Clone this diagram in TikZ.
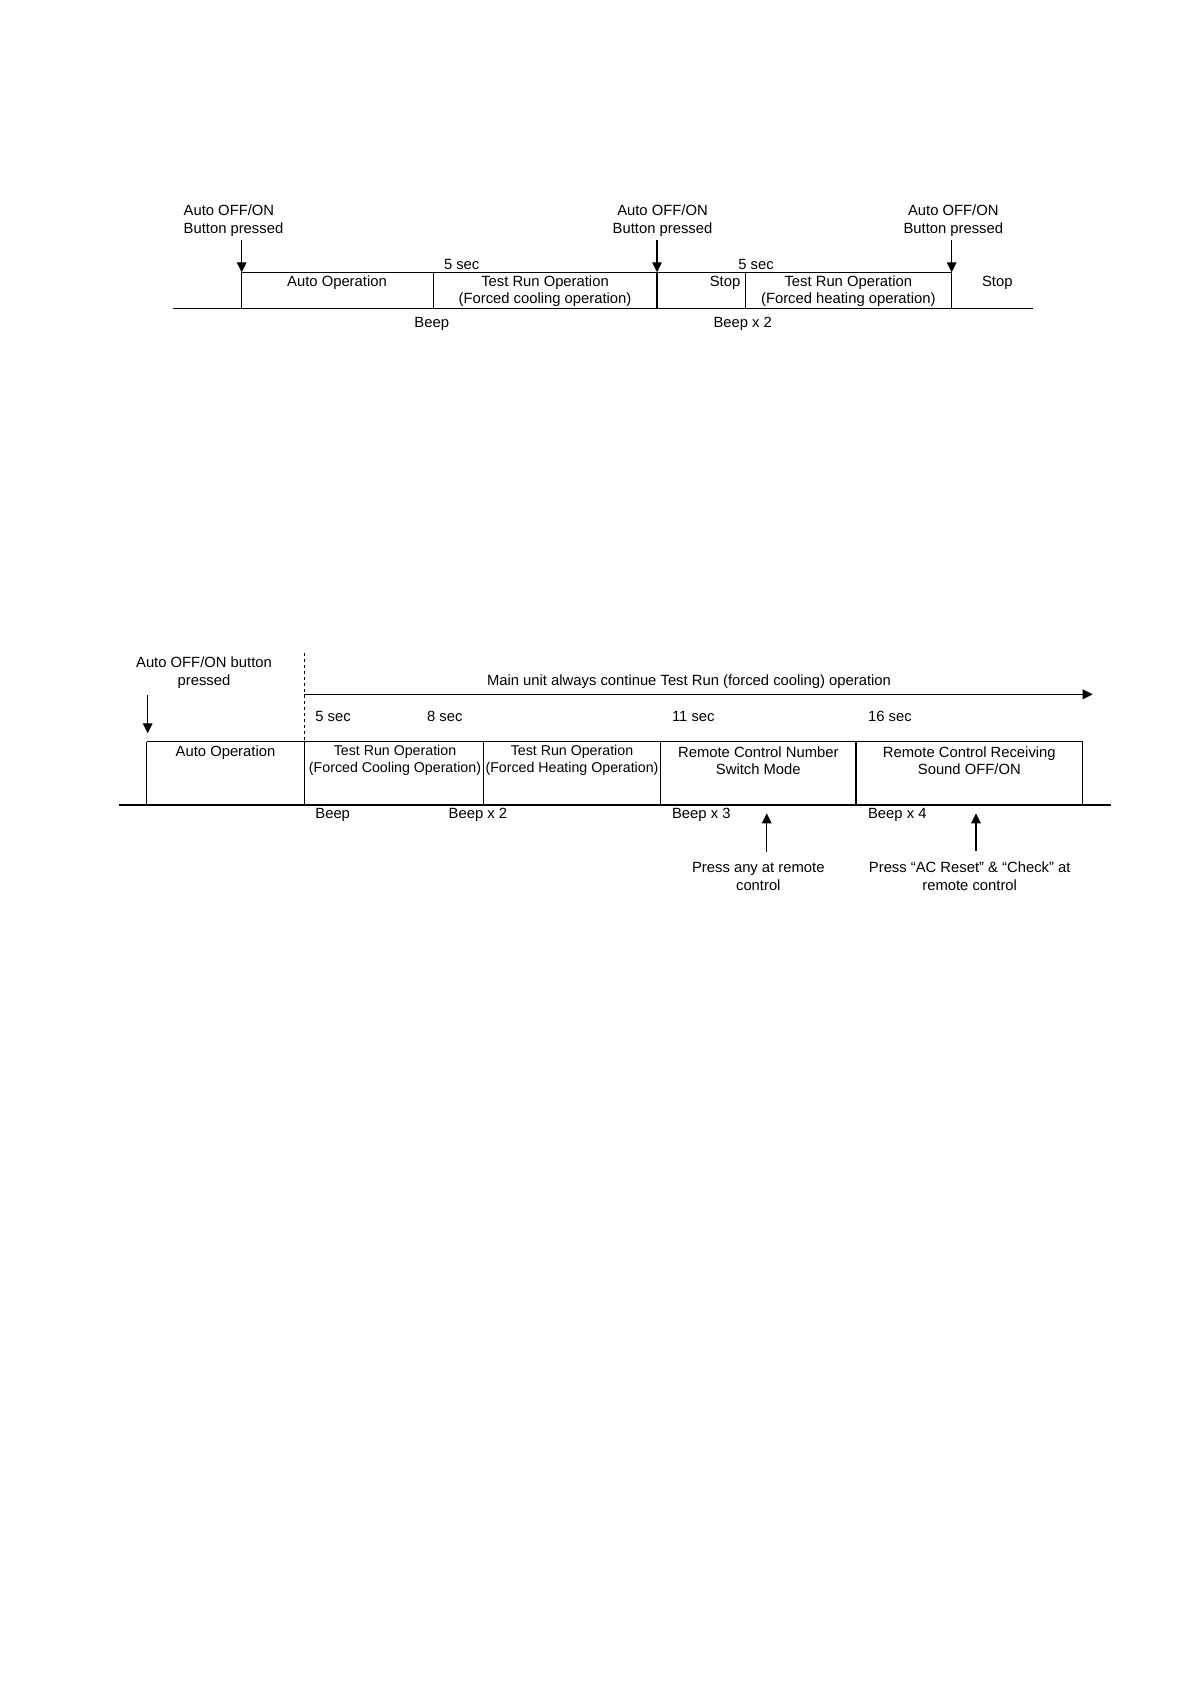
\documentclass[tikz,border=0pt]{standalone}
\usepackage{fontspec}
\setmainfont{Liberation Sans}
\usetikzlibrary{arrows.meta}
\begin{document}
\begin{tikzpicture}[x=0.5pt,y=-0.5pt,
  line/.style={line width=0.6pt},
  arr/.style={line width=0.6pt,-{Triangle[length=5pt,width=4.8pt]}},
  txt/.style={inner sep=0pt,align=center,font=\fontsize{7.4}{8.6}\selectfont},
  btxt/.style={inner sep=0pt,align=center,font=\fontsize{7.1}{8.5}\selectfont},
  lbl/.style={inner sep=0pt,align=center,font=\fontsize{7.4}{9}\selectfont}]
\useasboundingbox (0,0) rectangle (1190,1684);
% ---------------- Top diagram ----------------
\coordinate (b0) at (173.3,308.3);
\coordinate (b1) at (1033.3,308.3);
\coordinate (p1) at (241.7,272.3);
\coordinate (p2) at (657,272.3);
\coordinate (p3) at (951.7,272.3);
\coordinate (d1) at (433.3,272.3);
\coordinate (d2) at (745.7,272.3);
\draw[line] (b0) -- (b1);
\draw[line] (p1) -- (p3);
\draw[line] (p1) -- (p1|-b0);
\draw[line] (d1) -- (d1|-b0);
\draw[line] (p2) -- (p2|-b0);
\draw[line] (d2) -- (d2|-b0);
\draw[line] (p3) -- (p3|-b0);
\node[lbl,align=left,anchor=west] (a1) at (183.3,221) {Auto OFF/ON\\Button pressed};
\node[lbl] (a2) at (662.5,221) {Auto OFF/ON\\Button pressed};
\node[lbl] (a3) at (953.3,221) {Auto OFF/ON\\Button pressed};
\draw[arr] (p1|-a1.south) ++(0,3) -- (p1);
\draw[arr] (p2|-a2.south) ++(0,3) -- (p2);
\draw[arr] (p3|-a3.south) ++(0,3) -- (p3);
\node[txt] (s1) at (461.7,264) {5 sec};
\node[txt] (s2) at (756,264) {5 sec};
\node[txt] (ao) at (337,283) {Auto Operation};
\node[txt] (tc) at (545,291) {Test Run Operation\\(Forced cooling operation)};
\node[txt] (st1) at (725,283) {Stop};
\node[txt] (th) at (848.3,291) {Test Run Operation\\(Forced heating operation)};
\node[txt] (st2) at (997.3,283) {Stop};
\node[txt] (bp1) at (431.7,324.3) {Beep};
\node[txt] (bp2) at (742.7,324.3) {Beep x 2};
% ---------------- Bottom diagram ----------------
\coordinate (c0) at (119,805);
\coordinate (c1) at (1111,805);
\coordinate (k0) at (146.7,741.7);
\coordinate (k1) at (304.3,741.7);
\coordinate (k2) at (483.3,741.7);
\coordinate (k3) at (660.7,741.7);
\coordinate (k4) at (856,741.7);
\coordinate (k5) at (1082.7,741.7);
\draw[line] (c0) -- (c1);
\draw[line] (k0) -- (k5);
\foreach \k in {k0,k1,k2,k3,k4,k5} \draw[line] (\k) -- (\k|-c0);
\coordinate (dtop) at (304.3,653);
\draw[line,dash pattern=on 1.6pt off 1.4pt] (dtop) -- (k1);
\coordinate (hs) at (304.3,694.3);
\coordinate (he) at (1092.7,694.3);
\draw[arr] (hs) -- (he);
\node[txt] (mu) at (689,681.7) {Main unit always continue Test Run (forced cooling) operation};
\node[lbl] (ab) at (204,672.5) {Auto OFF/ON button\\pressed};
\coordinate (abs) at (147.7,695);
\coordinate (abe) at (147.7,733.3);
\draw[arr] (abs) -- (abe);
\node[txt,anchor=west] (t5) at (315,716) {5 sec};
\node[txt,anchor=west] (t8) at (426.7,716) {8 sec};
\node[txt,anchor=west] (t11) at (671.7,716) {11 sec};
\node[txt,anchor=west] (t16) at (867.7,716) {16 sec};
\node[txt] (bao) at (225.5,752.3) {Auto Operation};
\node[btxt] (btc) at (395,760.8) {Test Run Operation\\(Forced Cooling Operation)};
\node[btxt] (bth) at (572,760.8) {Test Run Operation\\(Forced Heating Operation)};
\node[txt] (brn) at (758.3,760.8) {Remote Control Number\\Switch Mode};
\node[txt] (brr) at (969.3,760.8) {Remote Control Receiving\\Sound OFF/ON};
\node[txt,anchor=west] (bb1) at (315,815) {Beep};
\node[txt,anchor=west] (bb2) at (448.3,815) {Beep x 2};
\node[txt,anchor=west] (bb3) at (671.7,815) {Beep x 3};
\node[txt,anchor=west] (bb4) at (867.7,815) {Beep x 4};
\node[lbl] (pr1) at (758.3,876.3) {Press any at remote\\control};
\node[lbl] (pr2) at (969.7,876.3) {Press “AC Reset” \& “Check” at\\remote control};
\coordinate (u1) at (766.7,813.3);
\coordinate (u2) at (976,813.3);
\draw[arr] (u1|-pr1.north) ++(0,-10) -- (u1);
\draw[arr] (u2|-pr2.north) ++(0,-10) -- (u2);
\end{tikzpicture}
\end{document}
